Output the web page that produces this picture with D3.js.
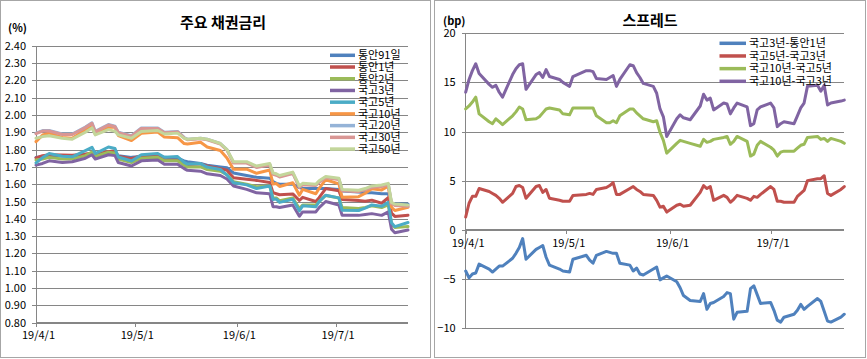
<!DOCTYPE html>
<html><head><meta charset="utf-8">
<script src="https://cdn.jsdelivr.net/npm/d3@7"></script>
<style>
body{margin:0;background:#fff}
text{font-family:"Noto Sans CJK KR","Malgun Gothic",sans-serif;fill:#000}
</style>
</head><body>
<svg id="c" width="867" height="359"></svg>
<script>
// ---------- DATA: 주요 채권금리 (%) ----------
const rateDates = ["2019-04-01","2019-04-03","2019-04-05","2019-04-09","2019-04-12","2019-04-16","2019-04-18","2019-04-19","2019-04-23","2019-04-25","2019-04-26","2019-04-30",
"2019-05-03","2019-05-08","2019-05-10","2019-05-14","2019-05-16","2019-05-17","2019-05-21","2019-05-23","2019-05-27","2019-05-29","2019-05-31",
"2019-06-04","2019-06-07","2019-06-11","2019-06-12","2019-06-13","2019-06-14","2019-06-18","2019-06-20","2019-06-21","2019-06-25","2019-06-26","2019-06-28",
"2019-07-02","2019-07-03","2019-07-08","2019-07-10","2019-07-12","2019-07-15","2019-07-17","2019-07-18","2019-07-19","2019-07-23"];
const rateNames = ["통안91일","통안1년","통안2년","국고3년","국고5년","국고10년","국고20년","국고30년","국고50년"];
const rateColors = ["#4F81BD","#C0504D","#9BBB59","#8064A2","#4BACC6","#F79646","#95B3D7","#D99694","#C3D69B"];
const msb91d = [1.755,1.76,1.765,1.765,1.765,1.77,1.775,1.775,1.78,1.78,1.765,1.755,
1.76,1.765,1.755,1.75,1.735,1.73,1.72,1.71,1.70,1.695,1.665,
1.65,1.64,1.635,1.615,1.605,1.60,1.60,1.58,1.575,1.575,1.575,1.575,
1.57,1.56,1.555,1.55,1.55,1.545,1.545,1.49,1.485,1.485];
const msb1y = [1.752,1.765,1.77,1.768,1.767,1.774,1.779,1.775,1.788,1.793,1.761,1.747,
1.765,1.771,1.741,1.738,1.714,1.714,1.717,1.705,1.69,1.681,1.637,
1.629,1.622,1.61,1.551,1.545,1.539,1.544,1.506,1.524,1.50,1.522,1.575,
1.562,1.512,1.506,1.501,1.508,1.49,1.523,1.433,1.414,1.421];
const msb2y = [1.74,1.745,1.755,1.745,1.745,1.765,1.785,1.76,1.785,1.78,1.745,1.725,
1.75,1.755,1.735,1.735,1.71,1.70,1.70,1.685,1.675,1.655,1.615,
1.60,1.585,1.59,1.52,1.52,1.505,1.52,1.46,1.48,1.48,1.50,1.535,
1.52,1.465,1.46,1.465,1.475,1.465,1.48,1.37,1.35,1.355];
const ktb3y = [1.71,1.72,1.735,1.725,1.73,1.75,1.77,1.745,1.77,1.765,1.725,1.705,
1.735,1.74,1.715,1.715,1.69,1.68,1.675,1.66,1.65,1.63,1.59,
1.57,1.55,1.545,1.47,1.47,1.465,1.48,1.415,1.44,1.44,1.465,1.50,
1.48,1.42,1.42,1.425,1.43,1.42,1.44,1.34,1.32,1.335];
const ktb5y = [1.723,1.754,1.777,1.762,1.758,1.794,1.813,1.777,1.815,1.806,1.757,1.734,
1.77,1.777,1.756,1.76,1.726,1.716,1.719,1.699,1.685,1.653,1.608,
1.596,1.575,1.59,1.512,1.514,1.495,1.513,1.446,1.475,1.47,1.499,1.536,
1.521,1.449,1.448,1.462,1.48,1.472,1.495,1.377,1.355,1.379];
const ktb10y = [1.846,1.884,1.895,1.87,1.865,1.914,1.936,1.889,1.93,1.929,1.881,1.852,
1.894,1.901,1.872,1.869,1.835,1.832,1.842,1.815,1.795,1.752,1.686,
1.687,1.663,1.682,1.601,1.604,1.587,1.608,1.536,1.57,1.545,1.576,1.626,
1.602,1.524,1.528,1.548,1.574,1.567,1.588,1.467,1.448,1.467];
const ktb20y = [1.895,1.91,1.91,1.89,1.89,1.93,1.955,1.905,1.945,1.935,1.90,1.88,
1.925,1.925,1.90,1.905,1.87,1.86,1.865,1.86,1.835,1.80,1.725,
1.725,1.70,1.715,1.66,1.655,1.645,1.665,1.585,1.60,1.595,1.615,1.64,
1.63,1.565,1.56,1.57,1.585,1.59,1.60,1.49,1.48,1.475];
const ktb30y = [1.892,1.907,1.907,1.887,1.887,1.927,1.952,1.902,1.942,1.932,1.897,1.877,
1.922,1.922,1.897,1.902,1.867,1.857,1.862,1.857,1.832,1.797,1.722,
1.722,1.697,1.712,1.657,1.652,1.642,1.662,1.582,1.597,1.592,1.612,1.637,
1.627,1.562,1.557,1.567,1.582,1.587,1.597,1.487,1.477,1.472];
const ktb50y = [1.865,1.875,1.88,1.865,1.86,1.90,1.925,1.885,1.915,1.905,1.885,1.865,
1.905,1.91,1.89,1.895,1.865,1.86,1.865,1.86,1.835,1.80,1.73,
1.73,1.705,1.72,1.665,1.66,1.65,1.67,1.59,1.605,1.60,1.62,1.645,
1.635,1.57,1.565,1.575,1.59,1.595,1.605,1.495,1.485,1.48];
const rateTicks = [0.80,0.90,1.00,1.10,1.20,1.30,1.40,1.50,1.60,1.70,1.80,1.90,2.00,2.10,2.20,2.30,2.40];

// ---------- DATA: 스프레드 (bp) ----------
const spreadDates = ["2019-04-01","2019-04-02","2019-04-03","2019-04-04","2019-04-05","2019-04-08","2019-04-09","2019-04-10","2019-04-11","2019-04-12","2019-04-15","2019-04-16","2019-04-17","2019-04-18","2019-04-19","2019-04-22","2019-04-23","2019-04-24","2019-04-25","2019-04-26","2019-04-29","2019-04-30",
"2019-05-02","2019-05-03","2019-05-07","2019-05-08","2019-05-09","2019-05-10","2019-05-13","2019-05-14","2019-05-15","2019-05-16","2019-05-17","2019-05-20","2019-05-21","2019-05-22","2019-05-23","2019-05-24","2019-05-27","2019-05-28","2019-05-29","2019-05-30","2019-05-31",
"2019-06-03","2019-06-04","2019-06-05","2019-06-07","2019-06-10","2019-06-11","2019-06-12","2019-06-13","2019-06-14","2019-06-17","2019-06-18","2019-06-19","2019-06-20","2019-06-21","2019-06-24","2019-06-25","2019-06-26","2019-06-27","2019-06-28",
"2019-07-01","2019-07-02","2019-07-03","2019-07-04","2019-07-05","2019-07-08","2019-07-09","2019-07-10","2019-07-11","2019-07-12","2019-07-15","2019-07-16","2019-07-17","2019-07-18","2019-07-19","2019-07-22","2019-07-23"];
const spreadNames = ["국고3년-통안1년","국고5년-국고3년","국고10년-국고5년","국고10년-국고3년"];
const spreadColors = ["#4F81BD","#C0504D","#9BBB59","#8064A2"];
const sp3y1y = [-4.2,-4.9,-4.5,-4.4,-3.5,-4.0,-4.3,-4.0,-3.7,-3.7,-2.9,-2.4,-1.8,-0.9,-3.0,-2.0,-1.8,-1.6,-2.8,-3.6,-4.0,-4.2,
-4.3,-3.0,-2.6,-3.1,-3.4,-2.6,-2.2,-2.3,-2.4,-2.4,-3.4,-3.6,-4.2,-3.9,-4.5,-4.6,-4.0,-3.8,-5.1,-4.9,-4.7,
-5.3,-5.9,-6.7,-7.2,-7.3,-6.5,-8.1,-7.5,-7.4,-6.8,-6.4,-6.5,-9.1,-8.4,-8.3,-6.0,-5.7,-6.6,-7.5,
-7.4,-8.2,-9.2,-9.4,-8.9,-8.6,-8.2,-7.6,-8.1,-7.8,-7.0,-7.3,-8.3,-9.3,-9.4,-8.9,-8.6];
const sp5y3y = [1.3,2.7,3.4,3.4,4.2,3.9,3.7,3.5,3.2,2.8,3.7,4.4,4.5,4.3,3.2,4.4,4.5,3.8,4.1,3.2,3.0,2.9,
2.9,3.5,3.6,3.7,3.6,4.1,4.3,4.5,4.8,3.6,3.6,4.2,4.4,4.1,3.9,3.6,3.5,3.0,2.3,2.4,1.8,
2.5,2.6,2.4,2.5,3.8,4.5,4.2,4.4,3.0,3.5,3.3,2.8,3.1,3.5,3.2,3.0,3.4,3.3,3.6,
4.4,4.1,2.9,2.9,2.8,2.8,3.4,3.7,4.0,5.0,5.2,5.2,5.5,3.7,3.5,4.1,4.4];
const sp10y5y = [12.3,12.6,13.0,13.5,11.8,11.0,10.8,11.3,11.0,10.7,11.6,12.0,12.5,12.3,11.2,11.3,11.5,11.9,12.3,12.4,12.2,11.8,
11.7,12.4,12.4,12.4,12.4,11.6,10.9,10.9,11.1,10.9,11.6,12.3,12.3,11.9,11.6,11.3,11.0,11.1,9.9,9.1,7.8,
8.8,9.1,9.0,8.8,8.5,9.2,8.9,9.0,9.2,9.4,9.5,8.7,9.0,9.5,9.0,7.5,7.7,8.6,9.0,
8.4,8.1,7.5,7.9,8.0,8.0,8.3,8.6,8.7,9.4,9.5,9.2,9.3,9.0,9.3,9.0,8.8];
const sp10y3y = [14.0,15.3,16.2,16.9,15.9,14.8,14.5,14.7,14.0,13.5,15.8,16.4,16.8,16.9,14.3,15.8,16.0,15.5,16.3,15.6,15.3,15.0,
14.6,15.6,16.2,16.2,16.1,15.4,15.3,15.5,15.7,14.6,15.3,16.8,16.7,16.0,15.5,14.9,14.6,13.9,12.3,11.5,9.5,
11.3,11.7,11.4,11.2,12.6,13.8,13.2,13.4,12.2,12.9,12.8,11.8,12.4,12.9,12.5,10.6,10.8,12.2,12.5,
12.9,12.4,10.5,10.8,11.0,10.8,11.6,12.4,12.9,14.6,14.7,14.1,14.7,12.7,12.9,13.1,13.2];
const spreadTicks = [-10,-5,0,5,10,15,20];
const dateTicks = ["2019-04-01","2019-05-01","2019-06-01","2019-07-01"];
const dateDomain = ["2019-04-01","2019-07-23"];

// ---------- DRAW ----------
const parse = d3.timeParse("%Y-%m-%d");
const fmtDate = d3.timeFormat("%y/%-m/%-d");
const svg = d3.select("#c");
const GRID = "#868686";

svg.append("rect").attr("x",0.5).attr("y",0.5).attr("width",430).attr("height",357)
  .attr("fill","#fff").attr("stroke","#a6a6a6");
svg.append("rect").attr("x",434.5).attr("y",0.5).attr("width",431).attr("height",357)
  .attr("fill","#fff").attr("stroke","#a6a6a6");

function styleAxis(g){
  g.select(".domain").remove();
  g.selectAll(".tick line").attr("stroke",GRID);
  g.selectAll(".tick text").attr("font-size","11px").attr("fill","#000");
}

function panel(o){
  const x = d3.scaleTime().domain(dateDomain.map(parse)).range([o.x0,o.x1]);
  const y = d3.scaleLinear().domain(o.yDomain).range([o.y1,o.y0]);
  // gridlines
  svg.append("g").attr("transform",`translate(${o.x0},0)`)
    .call(d3.axisLeft(y).tickValues(o.ticks).tickSize(-(o.x1-o.x0)).tickFormat(""))
    .call(g=>{g.select(".domain").remove(); g.selectAll("line").attr("stroke",GRID).attr("shape-rendering","crispEdges");});
  // y axis labels
  svg.append("g").attr("transform",`translate(${o.x0},0)`)
    .call(d3.axisLeft(y).tickValues(o.ticks).tickSize(4).tickPadding(6).tickFormat(o.yFmt))
    .call(styleAxis)
    .call(g=>g.selectAll("line").attr("shape-rendering","crispEdges"));
  // vertical axis line
  svg.append("line").attr("x1",o.x0).attr("x2",o.x0).attr("y1",o.y0).attr("y2",o.y1)
    .attr("stroke",GRID).attr("shape-rendering","crispEdges");
  // x axis
  const yx = y(o.xAt);
  svg.append("g").attr("transform",`translate(0,${yx})`)
    .call(d3.axisBottom(x).tickValues(dateTicks.map(parse)).tickSize(4).tickPadding(5).tickFormat(fmtDate))
    .call(g=>{g.select(".domain").attr("stroke",GRID).attr("shape-rendering","crispEdges");
      g.selectAll(".tick line").attr("stroke",GRID).attr("shape-rendering","crispEdges");
      g.selectAll(".tick text").attr("font-size","11px").attr("fill","#000").attr("dx",2);})
    .call(g=>g.select(".domain").attr("d",`M${o.x0},0H${o.x1}`));
  // lines
  const dates = o.dates.map(parse);
  const line = d3.line().x((d,i)=>x(dates[i])).y(d=>y(d));
  o.series.forEach((s,i)=>{
    svg.append("path").datum(s).attr("d",line).attr("fill","none")
      .attr("stroke",o.colors[i]).attr("stroke-width",3)
      .attr("stroke-linejoin","round").attr("stroke-linecap","round");
  });
  // legend
  o.names.forEach((n,i)=>{
    const ly = o.legY + i*o.legDy;
    svg.append("line").attr("x1",o.legX).attr("x2",o.legX+o.legW).attr("y1",ly).attr("y2",ly)
      .attr("stroke",o.colors[i]).attr("stroke-width",3.5);
    svg.append("text").attr("x",o.legX+o.legW+3).attr("y",ly).attr("dy","0.35em")
      .attr("font-size","11px").text(n);
  });
  // title & unit
  svg.append("text").attr("x",o.titleX).attr("y",o.titleY).attr("text-anchor","middle")
    .attr("font-size","15px").attr("font-weight","bold").text(o.title);
  svg.append("text").attr("x",o.unitX).attr("y",o.unitY).attr("font-size","11px")
    .attr("font-weight","bold").text(o.unit);
}

panel({
  x0:36, x1:408, y0:45.7, y1:322.7, yDomain:[0.8,2.4], ticks:rateTicks, yFmt:d3.format(".2f"), xAt:0.8,
  dates:rateDates, series:[msb91d,msb1y,msb2y,ktb3y,ktb5y,ktb10y,ktb20y,ktb30y,ktb50y],
  colors:rateColors, names:rateNames,
  legX:330, legW:25, legY:55.3, legDy:11.72,
  title:"주요 채권금리", titleX:223, titleY:28, unit:"(%)", unitX:8, unitY:32
});

panel({
  x0:465.7, x1:844.3, y0:33.3, y1:328, yDomain:[-10,20], ticks:spreadTicks, yFmt:d3.format("d"), xAt:0,
  dates:spreadDates, series:[sp3y1y,sp5y3y,sp10y5y,sp10y3y],
  colors:spreadColors, names:spreadNames,
  legX:719.5, legW:26.5, legY:43.3, legDy:12.67,
  title:"스프레드", titleX:650, titleY:26, unit:"(bp)", unitX:443, unitY:25
});
</script>
</body></html>
